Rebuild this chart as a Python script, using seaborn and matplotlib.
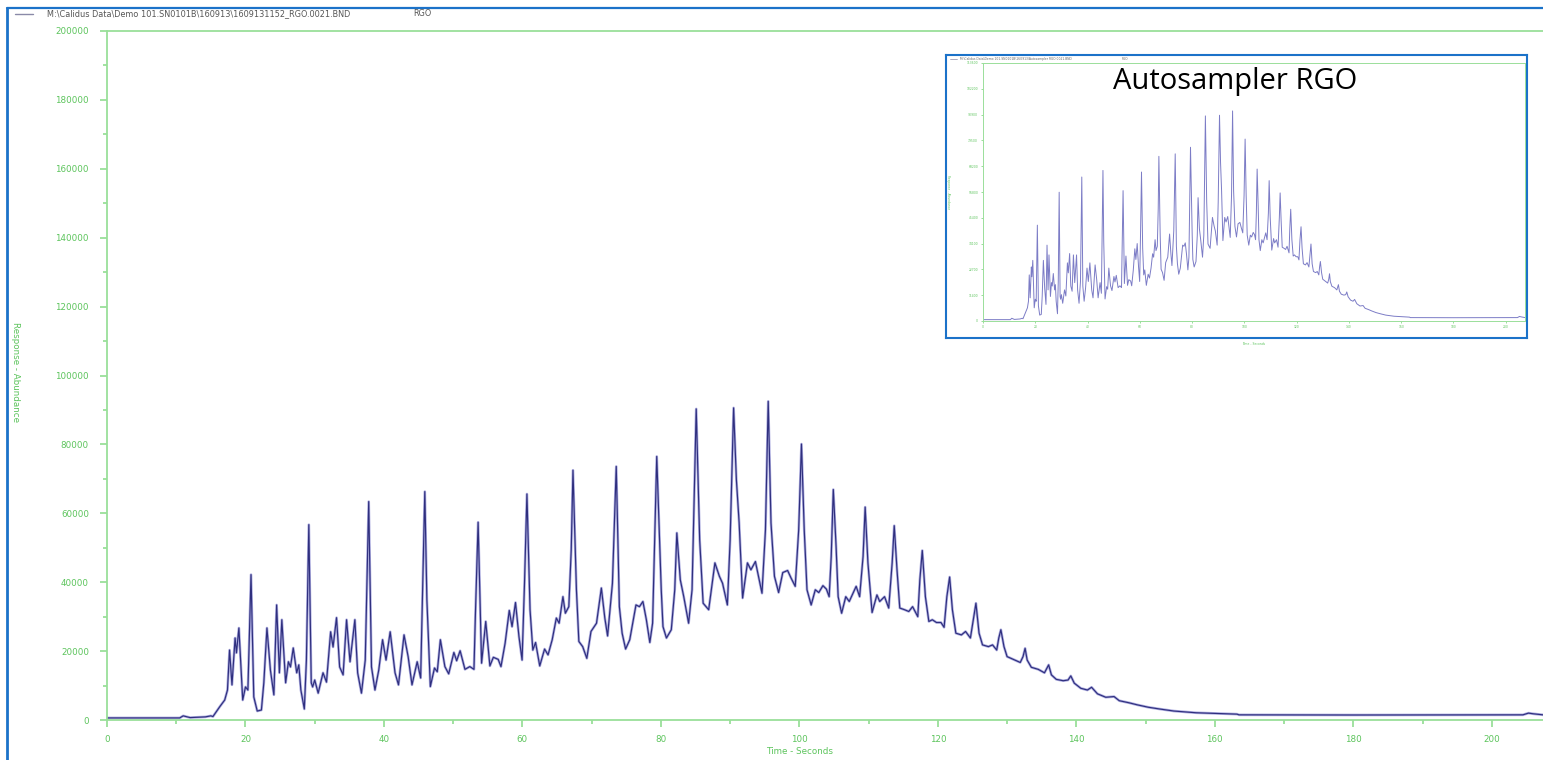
import numpy as np
import pandas as pd
import matplotlib
matplotlib.use("Agg")
import matplotlib.pyplot as plt
import seaborn as sns
from matplotlib.lines import Line2D
from matplotlib.ticker import MultipleLocator, FuncFormatter

# ---------------- data ----------------
time_s = [
    0.0, 10.5, 11.0, 12.0, 14.2, 15.0, 15.3, 16.3, 17.0, 17.4, 17.7, 18.05, 18.5, 18.7, 19.05,
    19.6, 20.0, 20.35, 20.8, 21.2, 21.7, 22.3, 22.65, 23.1, 23.6, 24.1, 24.5, 24.9, 25.25,
    25.8, 26.2, 26.5, 26.9, 27.4, 27.7, 28.0, 28.5, 28.8, 29.15, 29.5, 29.7, 30.0, 30.5,
    31.2, 31.7, 32.3, 32.65, 33.15, 33.6, 34.1, 34.6, 35.1, 35.8, 36.2, 36.75, 37.3, 37.8,
    38.2, 38.7, 39.25, 39.8, 40.3, 40.9, 41.6, 42.1, 42.9, 43.5, 44.05, 44.8, 45.3, 45.9,
    46.2, 46.7, 47.3, 47.7, 48.15, 48.8, 49.35, 50.1, 50.5, 51.0, 51.7, 52.4, 53.0, 53.2,
    53.6, 54.1, 54.7, 55.3, 55.8, 56.5, 56.9, 57.5, 58.1, 58.5, 59.0, 59.5, 59.95, 60.3,
    60.65, 61.1, 61.5, 61.9, 62.5, 63.2, 63.7, 64.3, 64.9, 65.3, 65.85, 66.2, 66.7, 67.05,
    67.3, 67.8, 68.15, 68.7, 69.3, 69.9, 70.7, 71.4, 71.9, 72.3, 73.0, 73.55, 74.0, 74.4,
    74.9, 75.5, 76.4, 76.9, 77.4, 77.9, 78.4, 78.8, 79.4, 80.05, 80.3, 80.8, 81.5, 82.0,
    82.3, 82.8, 83.3, 84.0, 84.5, 85.1, 85.6, 86.1, 86.9, 87.8, 88.45, 88.9, 89.6, 90.0,
    90.5, 90.9, 91.3, 91.8, 92.5, 93.0, 93.65, 94.1, 94.6, 95.1, 95.5, 95.9, 96.4, 97.0,
    97.6, 98.3, 98.8, 99.4, 99.9, 100.3, 100.7, 101.1, 101.7, 102.3, 102.8, 103.4, 103.9,
    104.3, 104.6, 104.9, 105.3, 105.6, 106.1, 106.7, 107.2, 108.2, 108.7, 109.2, 109.5,
    109.9, 110.5, 111.2, 111.6, 112.3, 112.9, 113.4, 113.7, 114.1, 114.5, 115.2, 115.8,
    116.35, 117.1, 117.4, 117.75, 118.2, 118.7, 119.2, 119.8, 120.45, 120.9, 121.3, 121.7,
    122.1, 122.6, 123.4, 124.0, 124.7, 125.2, 125.5, 125.95, 126.45, 127.3, 127.9, 128.5,
    128.8, 129.1, 129.55, 130.0, 130.9, 131.9, 132.3, 132.6, 132.9, 133.5, 134.5, 135.4,
    136.0, 136.4, 137.1, 138.1, 138.8, 139.2, 139.7, 140.65, 141.6, 142.2, 143.05, 144.25,
    145.45, 146.2, 147.6, 148.8, 150.4, 152.0, 154.1, 157.3, 163.2, 163.5, 180.0, 204.5,
    205.3, 206.0, 207.4,
]
response = [
    600, 600, 1200, 700, 900, 1200, 1000, 3900, 5800, 8700, 20300, 10200, 23800, 19500, 26700,
    5800, 9600, 8700, 42200, 6700, 2600, 2900, 10800, 26700, 14500, 7300, 33400, 13700, 29100,
    10800, 16900, 15400, 20900, 13700, 16000, 8700, 3200, 17400, 56700, 10800, 9600, 11600, 7800,
    13700, 11000, 25600, 21200, 29700, 15400, 13100, 29100, 16900, 29100, 13700, 7800, 17400, 63400,
    15400, 8700, 14500, 23300, 17400, 25600, 13700, 10200, 24700, 18300, 10200, 16900, 12200, 66300,
    34900, 9700, 15100, 14000, 23300, 15500, 13400, 19600, 17200, 20100, 14700, 15500, 14700, 30000,
    57400, 16500, 28600, 15700, 18200, 17600, 15500, 22300, 31800, 27100, 34100, 24200, 17400, 39700,
    65600, 32000, 20300, 22500, 15700, 20600, 18900, 23300, 29600, 28100, 35800, 31000, 32900, 49400,
    72500, 37800, 22800, 21300, 17900, 25700, 28100, 38300, 29600, 24400, 39700, 73600, 32900, 25200,
    20600, 23300, 33400, 32900, 34400, 29100, 22500, 28100, 76500, 37800, 27100, 23800, 26200, 37800,
    54300, 40700, 35800, 28100, 37800, 90300, 52300, 33900, 32000, 45600, 41700, 39700, 33400, 52300,
    90600, 69800, 57200, 35400, 45600, 43600, 46000, 41700, 36800, 55200, 92500, 57200, 41700, 37000,
    42800, 43400, 41200, 38800, 55200, 80100, 55200, 37800, 33400, 37800, 37000, 39000, 38000,
    35800, 47500, 66900, 50400, 35800, 31000, 35800, 34400, 38800, 35800, 47500, 61800,
    45600, 31200, 36300, 34400, 35800, 32500, 45600, 56400, 43600, 32500, 32000, 31500,
    32900, 30000, 40700, 49200, 35800, 28600, 29100, 28300, 28300, 26900, 35800, 41500,
    32000, 25200, 24700, 25700, 23800, 30000, 33900, 25200, 21800, 21300, 21800, 20300,
    23800, 26200, 21300, 18400, 17600, 16700, 18400, 20800, 17400, 15300, 14700, 13700,
    16000, 13100, 11800, 11400, 11600, 12800, 10700, 9200, 8700, 9500, 7600, 6600,
    6800, 5600, 5000, 4400, 3700, 3200, 2600, 2100, 1700, 1500, 1450, 1500,
    2000, 1800, 1500,
]

x_ticks = [0, 20, 40, 60, 80, 100, 120, 140, 160, 180, 200]
y_ticks = [0, 20000, 40000, 60000, 80000, 100000, 120000, 140000, 160000, 180000, 200000]
file_label = "M:\\Calidus Data\\Demo 101.SN0101B\\160913\\1609131152_RGO.0021.BND"
series_label = "RGO"
inset_file_label = "M:\\Calidus Data\\Demo 101.SN0101B\\160913\\Autosampler RGO 0021.BND"
inset_title = "Autosampler RGO"
x_title = "Time - Seconds"
y_title = "Response - Abundance"

df = pd.DataFrame({"time": time_s, "response": response})

# ---------------- styling ----------------
sns.set_theme(style="white")
plt.rcParams['font.family'] = ['DejaVu Sans']

GREEN_LINE = "#9adf9a"
GREEN_TEXT = "#5cc45c"
BLUE = "#1b72c9"
TRACE = "#2f2f7e"
TRACE_HALO = "#aeaee0"

W, H = 1543, 760
fig = plt.figure(figsize=(W / 100, H / 100), dpi=100)
fig.patch.set_facecolor("white")


def fx(px):
    return px / W


def fy(py):
    return 1 - py / H


def style_axes(a, labelsize, pad_y, pad_x, maj_len, min_len, lw):
    for side in ("left", "bottom", "top"):
        a.spines[side].set_visible(True)
        a.spines[side].set_color(GREEN_LINE)
        a.spines[side].set_linewidth(lw)
    a.spines["right"].set_visible(False)
    a.set_facecolor("white")
    a.tick_params(axis="both", which="both", direction="out", colors=GREEN_LINE,
                  labelcolor=GREEN_TEXT, labelsize=labelsize, width=lw)
    a.tick_params(axis="both", which="major", length=maj_len)
    a.tick_params(axis="both", which="minor", length=min_len)
    a.tick_params(axis="y", which="major", pad=pad_y)
    a.tick_params(axis="x", which="major", pad=pad_x)
    a.tick_params(top=False, right=False, left=True, bottom=True, which="both")
    a.grid(False)
    a.set_xlabel("")
    a.set_ylabel("")


# ---------------- main chromatogram ----------------
ax = fig.add_axes([fx(107), fy(720), fx(1543) - fx(107), fy(31) - fy(720)])
sns.lineplot(data=df, x="time", y="response", ax=ax, color=TRACE_HALO, linewidth=1.9,
             estimator=None, sort=False)
sns.lineplot(data=df, x="time", y="response", ax=ax, color=TRACE, linewidth=0.85,
             estimator=None, sort=False)
ax.set_xlim(0, 207.4)
ax.set_ylim(0, 200000)
ax.set_xticks(x_ticks)
ax.set_yticks(y_ticks)
ax.xaxis.set_minor_locator(MultipleLocator(10))
ax.yaxis.set_minor_locator(MultipleLocator(10000))
ax.yaxis.set_major_formatter(FuncFormatter(lambda v, p: f"{int(v)}"))
style_axes(ax, 6.3, 8, 6, 5, 3, 1.3)

fig.text(fx(800), fy(752), x_title, color=GREEN_TEXT, fontsize=6.3, ha="center", va="center")
fig.text(fx(15), fy(372), y_title, color=GREEN_TEXT, fontsize=6.3, ha="center", va="center",
         rotation=-90)

# legend at the top
fig.add_artist(Line2D([fx(15), fx(33)], [fy(14), fy(14)], color="#8a8aa8", linewidth=1.0,
                      transform=fig.transFigure))
fig.text(fx(47), fy(14), file_label, color="#555555", fontsize=5.85, ha="left", va="center")
fig.text(fx(413), fy(14), series_label, color="#555555", fontsize=5.85, ha="left", va="center")

# blue frame of the screenshot
fig.add_artist(Line2D([fx(7.5), fx(7.5)], [0, fy(8)], color=BLUE, linewidth=2.0,
                      transform=fig.transFigure))
fig.add_artist(Line2D([fx(7.5), 1], [fy(8.3), fy(8.3)], color=BLUE, linewidth=1.6,
                      transform=fig.transFigure))

# ---------------- inset ----------------
box = fig.add_axes([fx(946), fy(338), fx(1527) - fx(946), fy(55) - fy(338)])
box.set_xticks([])
box.set_yticks([])
box.set_facecolor("white")
for s in box.spines.values():
    s.set_color(BLUE)
    s.set_linewidth(1.5)
    s.set_visible(True)

iax = fig.add_axes([fx(983), fy(321), fx(1525) - fx(983), fy(63) - fy(321)])
sns.lineplot(data=df, x="time", y="response", ax=iax, color="#7c7cc6", linewidth=0.7,
             estimator=None, sort=False)
iax.set_xlim(0, 207.4)
iax.set_ylim(0, 113600)
iax.set_xticks(x_ticks)
iax.set_yticks(np.linspace(0, 113600, 11))
iax.yaxis.set_major_formatter(FuncFormatter(lambda v, p: f"{int(round(v, -2))}"))
style_axes(iax, 2.2, 2, 1.5, 1.5, 0, 0.7)
iax.spines["right"].set_visible(True)
iax.spines["right"].set_color(GREEN_LINE)
iax.spines["right"].set_linewidth(0.7)
iax.text(0.5, -0.09, x_title, transform=iax.transAxes, color=GREEN_TEXT, fontsize=2.2,
         ha="center", va="center")
iax.text(-0.065, 0.5, y_title, transform=iax.transAxes, color=GREEN_TEXT, fontsize=2.2,
         ha="center", va="center", rotation=-90)

fig.add_artist(Line2D([fx(950), fx(957)], [fy(59), fy(59)], color="#8a8aa8", linewidth=0.5,
                      transform=fig.transFigure))
fig.text(fx(960), fy(59), inset_file_label, color="#666666", fontsize=2.2, ha="left", va="center")
fig.text(fx(1122), fy(59), series_label, color="#666666", fontsize=2.2, ha="left", va="center")

fig.text(fx(1235), fy(82), inset_title, color="black", fontsize=21, ha="center", va="center",
         family=["Open Sans", "DejaVu Sans"])

fig.savefig("out.png", dpi=100, facecolor="white")
